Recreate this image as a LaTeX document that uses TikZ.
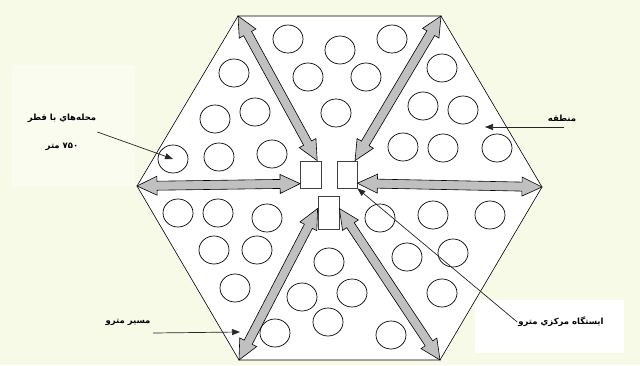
\documentclass[tikz,border=0pt]{standalone}
\usepackage{fontspec}
\newfontfamily\arabicfont[Script=Arabic]{DejaVu Sans}
\TeXXeTstate=1
\usetikzlibrary{calc,arrows.meta,shapes.geometric}
\definecolor{bgpale}{RGB}{246,250,230}
\definecolor{routegray}{RGB}{192,192,192}

\begin{document}
\begin{tikzpicture}[x=1pt,y=-1pt,
hood/.style={ellipse,draw=black,line width=0.7pt,fill=white,minimum width=30pt,minimum height=28pt,inner sep=0pt},
station/.style={draw=black!75,line width=0.8pt,fill=white,inner sep=0pt},
route/.style={draw=black,line width=0.6pt,fill=routegray,
  to path={let \p1=($(\tikztotarget)-(\tikztostart)$),\n1={atan2(\y1,\x1)} in
    (\tikztostart) -- ($(\tikztostart)+(\n1:20pt)+(\n1+90:9.5pt)$) -- ($(\tikztostart)+(\n1:20pt)+(\n1+90:4.5pt)$)
    -- ($(\tikztotarget)+(\n1:-20pt)+(\n1+90:4.5pt)$) -- ($(\tikztotarget)+(\n1:-20pt)+(\n1+90:9.5pt)$)
    -- (\tikztotarget)
    -- ($(\tikztotarget)+(\n1:-20pt)+(\n1-90:9.5pt)$) -- ($(\tikztotarget)+(\n1:-20pt)+(\n1-90:4.5pt)$)
    -- ($(\tikztostart)+(\n1:20pt)+(\n1-90:4.5pt)$) -- ($(\tikztostart)+(\n1:20pt)+(\n1-90:9.5pt)$) -- cycle}},
pointer/.style={draw=black!85,line width=0.7pt,-{Triangle[length=8pt,width=6pt]}},
lbl/.style={font=\arabicfont\bfseries\fontsize{8.5}{10}\selectfont,inner sep=1pt}
]
\fill[bgpale] (0,0) rectangle (640,365);
\fill[white!35!bgpale] (12,65) rectangle (135,187);
\fill[white] (475,300) rectangle (624,353);

% hexagon
\coordinate (vW) at (137,186);
\coordinate (vNW) at (238,16);
\coordinate (vNE) at (441,16);
\coordinate (vE) at (542,187);
\coordinate (vSE) at (440,360);
\coordinate (vSW) at (239,360);
\draw[line width=0.6pt,fill=white] (vW) -- (vNW) -- (vNE) -- (vE) -- (vSE) -- (vSW) -- cycle;

% neighbourhoods
\foreach \cx/\cy [count=\i] in {288/39,340/50,392/39,308/77,366/77,336/113,
  234/73,215/119,255/112,219/157,272/154,
  442/68,423/106,463/110,403/147,443/148,497/148,
  178/213,218/213,267/218,214/250,257/250,235/288,
  329/262,302/297,352/293,328/322,275/333,391/335,
  380/218,433/215,490/215,407/257,453/253,442/293}
  \node[hood] (hood\i) at (\cx,\cy) {};
\node[hood] (nb) at (173,159) {};

% metro stations
\node[station,minimum width=21pt,minimum height=27pt] (stA) at (311,174.5) {};
\node[station,minimum width=20pt,minimum height=27pt] (stB) at (347,174.5) {};
\node[station,minimum width=21pt,minimum height=33pt] (stC) at (328.5,212.5) {};

% metro routes
\draw[route] (stA.220) to (vW);
\draw[route] (stA.66) to (vNW);
\draw[route] (stB.60) to (vNE);
\draw[route] (stB.320) to (vE);
\draw[route] (stC.160) to (vSW);
\draw[route] (stC.20) to (vSE);

% labels
\node[lbl,align=center] (lblNbhd) at (62,132) {\beginR محله‌هاي با قطر\endR\\[18pt]\beginR\beginL۷۵۰\endL{} متر\endR};
\node[lbl] (lblRegion) at (562,118) {\beginR منطقه\endR};
\node[lbl] (lblStation) at (561,322) {\beginR ايستگاه مركزي مترو\endR};
\node[lbl] (lblRoute) at (128,322) {\beginR مسير مترو\endR};

\coordinate (regionTail) at (564,127);
\coordinate (regionTip) at (485,127);
\coordinate (routeTail) at (153,333);
\coordinate (routeTip) at (240,332);
\draw[pointer] (lblNbhd.east) -- (nb.center);
\draw[pointer] (regionTail) -- (regionTip);
\draw[pointer] (lblStation.west) -- (stB.south east);
\draw[pointer] (routeTail) -- (routeTip);
\end{tikzpicture}
\end{document}
